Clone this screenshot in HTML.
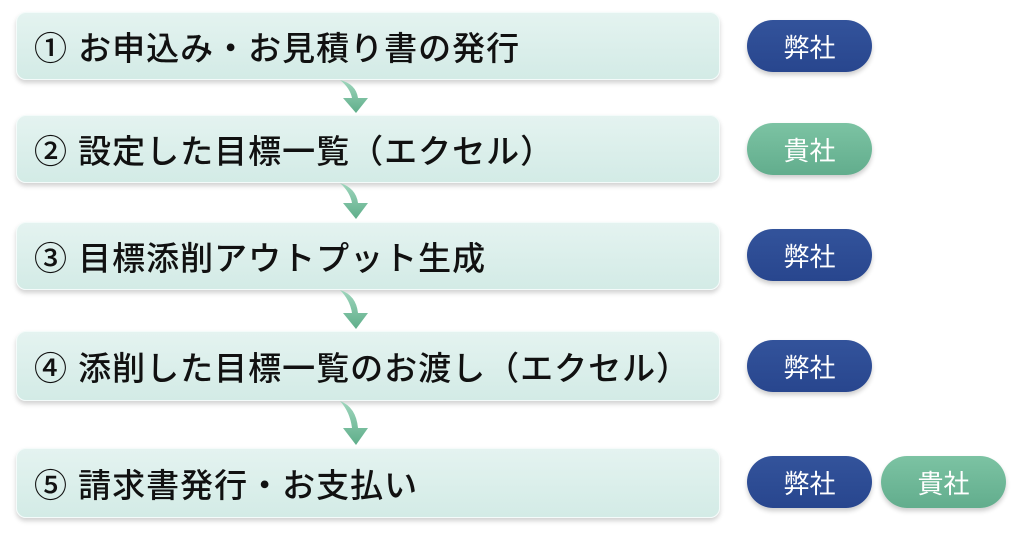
<!DOCTYPE html>
<html><head><meta charset="utf-8"><style>
body{margin:0;width:1024px;height:538px;background:#fff;position:relative;overflow:hidden;font-family:"Liberation Sans","Noto Sans CJK JP",sans-serif}
.b{position:absolute;left:16px;width:704px;border-radius:10px;background:linear-gradient(180deg,#e4f3f0,#d3ebe6);box-shadow:0 3px 5px rgba(0,0,0,.18);border:1px solid #f4fbfa;box-sizing:border-box;display:flex;align-items:center;padding-left:17px;font-size:33px;font-weight:500;color:#111;letter-spacing:1px}
.p{position:absolute;width:125px;height:52px;border-radius:26px;color:#fff;font-size:26px;display:flex;align-items:center;justify-content:center;box-shadow:0 3px 5px rgba(0,0,0,.2)}
.n{background:linear-gradient(180deg,#33539b,#28468e)}
.g{background:linear-gradient(180deg,#7cc3a3,#62ad8d)}
svg{position:absolute}
</style></head><body>
<div class="b" style="top:12px;height:68px">① お申込み・お見積り書の発行</div>
<div class="b" style="top:115px;height:68px">② 設定した目標一覧（エクセル）</div>
<div class="b" style="top:222px;height:68px">③ 目標添削アウトプット生成</div>
<div class="b" style="top:331px;height:70px">④ 添削した目標一覧のお渡し（エクセル）</div>
<div class="b" style="top:448px;height:70px">⑤ 請求書発行・お支払い</div>
<div class="p n" style="left:747px;top:20px">弊社</div>
<div class="p g" style="left:747px;top:123px">貴社</div>
<div class="p n" style="left:747px;top:229px">弊社</div>
<div class="p n" style="left:747px;top:340px">弊社</div>
<div class="p n" style="left:747px;top:456px">弊社</div>
<div class="p g" style="left:881px;top:456px">貴社</div>
<svg width="1024" height="538" style="left:0;top:0">
<defs><linearGradient id="a" x1="0" y1="0" x2="0" y2="1"><stop offset="0" stop-color="#9fd6bd"/><stop offset="1" stop-color="#5fae8a"/></linearGradient></defs>
<g fill="url(#a)">
<path d="M340 80 Q356 84 358 98 L368 98 L356 113 L343 98 L352 98 Q350 88 340 80Z"/>
<path d="M340 183 Q356 188 358 203 L368 203 L356 219 L343 203 L352 203 Q350 192 340 183Z"/>
<path d="M340 290 Q356 295 358 313 L368 313 L356 329 L343 313 L352 313 Q350 300 340 290Z"/>
<path d="M340 401 Q356 407 358 428 L368 428 L356 445 L343 428 L352 428 Q350 412 340 401Z"/>
</g></svg>
</body></html>
